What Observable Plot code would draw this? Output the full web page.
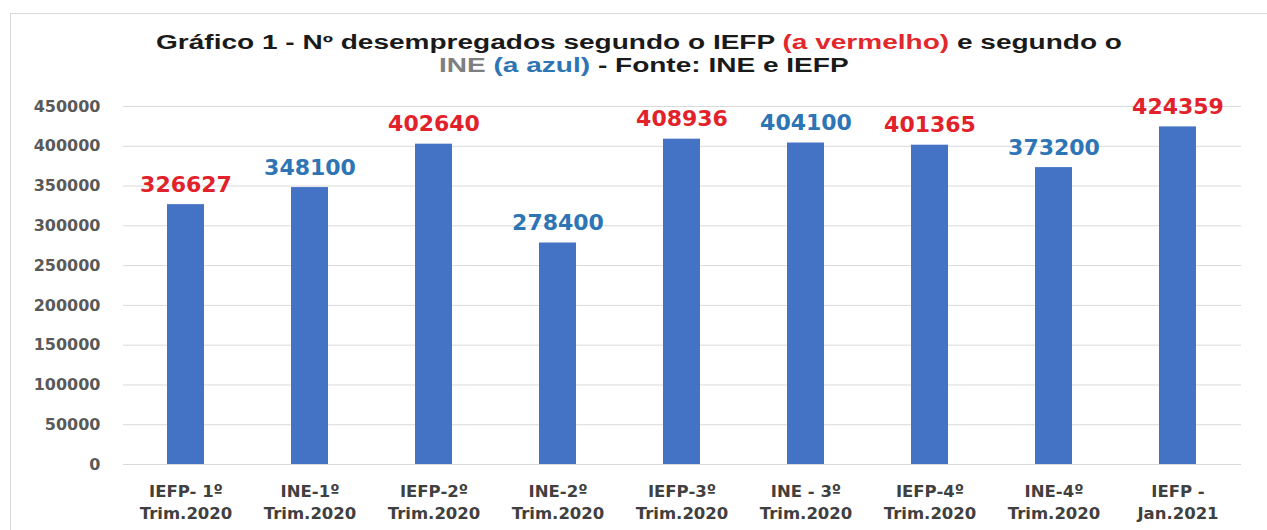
<!DOCTYPE html>
<html>
<head>
<meta charset="utf-8">
<script src="https://cdn.jsdelivr.net/npm/d3@7"></script>
<script src="https://cdn.jsdelivr.net/npm/@observablehq/plot@0.6"></script>
<style>
  html, body { margin: 0; padding: 0; background: #fff; }
  body { width: 1267px; height: 530px; position: relative; overflow: hidden; font-family: "DejaVu Sans", sans-serif; }
  #frame { position: absolute; left: 10px; top: 13px; width: 1400px; height: 700px; border: 1px solid #d9d9d9; box-sizing: border-box; }
  #title { position: absolute; left: 0; top: 31px; width: 1267px; font-family: "Liberation Sans", Arial, sans-serif; font-weight: bold; font-size: 19.5px; line-height: 23px; color: #1a1a1a; }
  #title .line { position: absolute; left: 0; white-space: nowrap; transform-origin: 0 50%; }
  #chart { position: absolute; left: 0; top: 85px; }
</style>
</head>
<body>
<div id="frame"></div>
<div id="title">
  <span class="line" id="t1" style="top:0">Gráfico 1 - Nº desempregados segundo o IEFP <span style="color:#e2282d">(a vermelho)</span> e segundo o</span>
  <span class="line" id="t2" style="top:23px"><span style="color:#7f7f7f">INE</span> <span style="color:#2e75b6">(a azul)</span> - Fonte: INE e IEFP</span>
</div>
<div id="chart"></div>
<script>
const labelLine1 = ["IEFP- 1º", "INE-1º", "IEFP-2º", "INE-2º", "IEFP-3º", "INE - 3º", "IEFP-4º", "INE-4º", "IEFP -"];
const labelLine2 = ["Trim.2020", "Trim.2020", "Trim.2020", "Trim.2020", "Trim.2020", "Trim.2020", "Trim.2020", "Trim.2020", "Jan.2021"];
const sources = ["IEFP", "INE", "IEFP", "INE", "IEFP", "INE", "IEFP", "INE", "IEFP"];
const values = [326627, 348100, 402640, 278400, 408936, 404100, 401365, 373200, 424359];
const yTicks = [0, 50000, 100000, 150000, 200000, 250000, 300000, 350000, 400000, 450000];

// Title: stretch horizontally like the reference (left 156 .. right 1122 for line 1)
(function () {
  const t1 = document.getElementById("t1"), t2 = document.getElementById("t2");
  const w1 = t1.getBoundingClientRect().width, w2 = t2.getBoundingClientRect().width;
  const s = 966 / w1;
  t1.style.left = "156px";
  t1.style.transform = `scaleX(${s})`;
  t2.style.left = (644 - (w2 * s) / 2) + "px";
  t2.style.transform = `scaleX(${s})`;
})();

const categories = labelLine1.map((a, i) => a + "\n" + labelLine2[i]);
const data = categories.map((c, i) => ({ cat: c, value: values[i], source: sources[i] }));
const sourceColor = { IEFP: "#e2222a", INE: "#2e75b6" };

const chart = Plot.plot({
  width: 1267,
  height: 445,
  marginLeft: 123,
  marginRight: 26,
  marginTop: 21,
  marginBottom: 66,
  style: { fontFamily: "DejaVu Sans, sans-serif", background: "transparent", overflow: "visible" },
  x: { domain: categories, paddingInner: 0.7, paddingOuter: 0.35, label: null },
  y: { domain: [0, 450000], label: null },
  marks: [
    Plot.ruleY(yTicks, { stroke: "#d9d9d9", strokeWidth: 1 }),
    Plot.barY(data, { x: "cat", y: "value", fill: "#4472c4" }),
    Plot.text(data, {
      x: "cat", y: "value", text: d => String(d.value),
      fill: d => sourceColor[d.source],
      fontSize: 22, fontWeight: "bold", lineAnchor: "bottom", dy: -13
    }),
    Plot.axisY({
      ticks: yTicks, tickSize: 0, tickPadding: 23, tickFormat: d => String(d),
      fontSize: 16, fontWeight: "bold", fill: "#595959", label: null
    }),
    Plot.axisX({
      tickSize: 0, tickPadding: 16, fontSize: 16.5, fontWeight: "bold", fill: "#404040",
      lineHeight: 1.38, label: null
    })
  ]
});
document.getElementById("chart").appendChild(chart);
</script>
</body>
</html>
